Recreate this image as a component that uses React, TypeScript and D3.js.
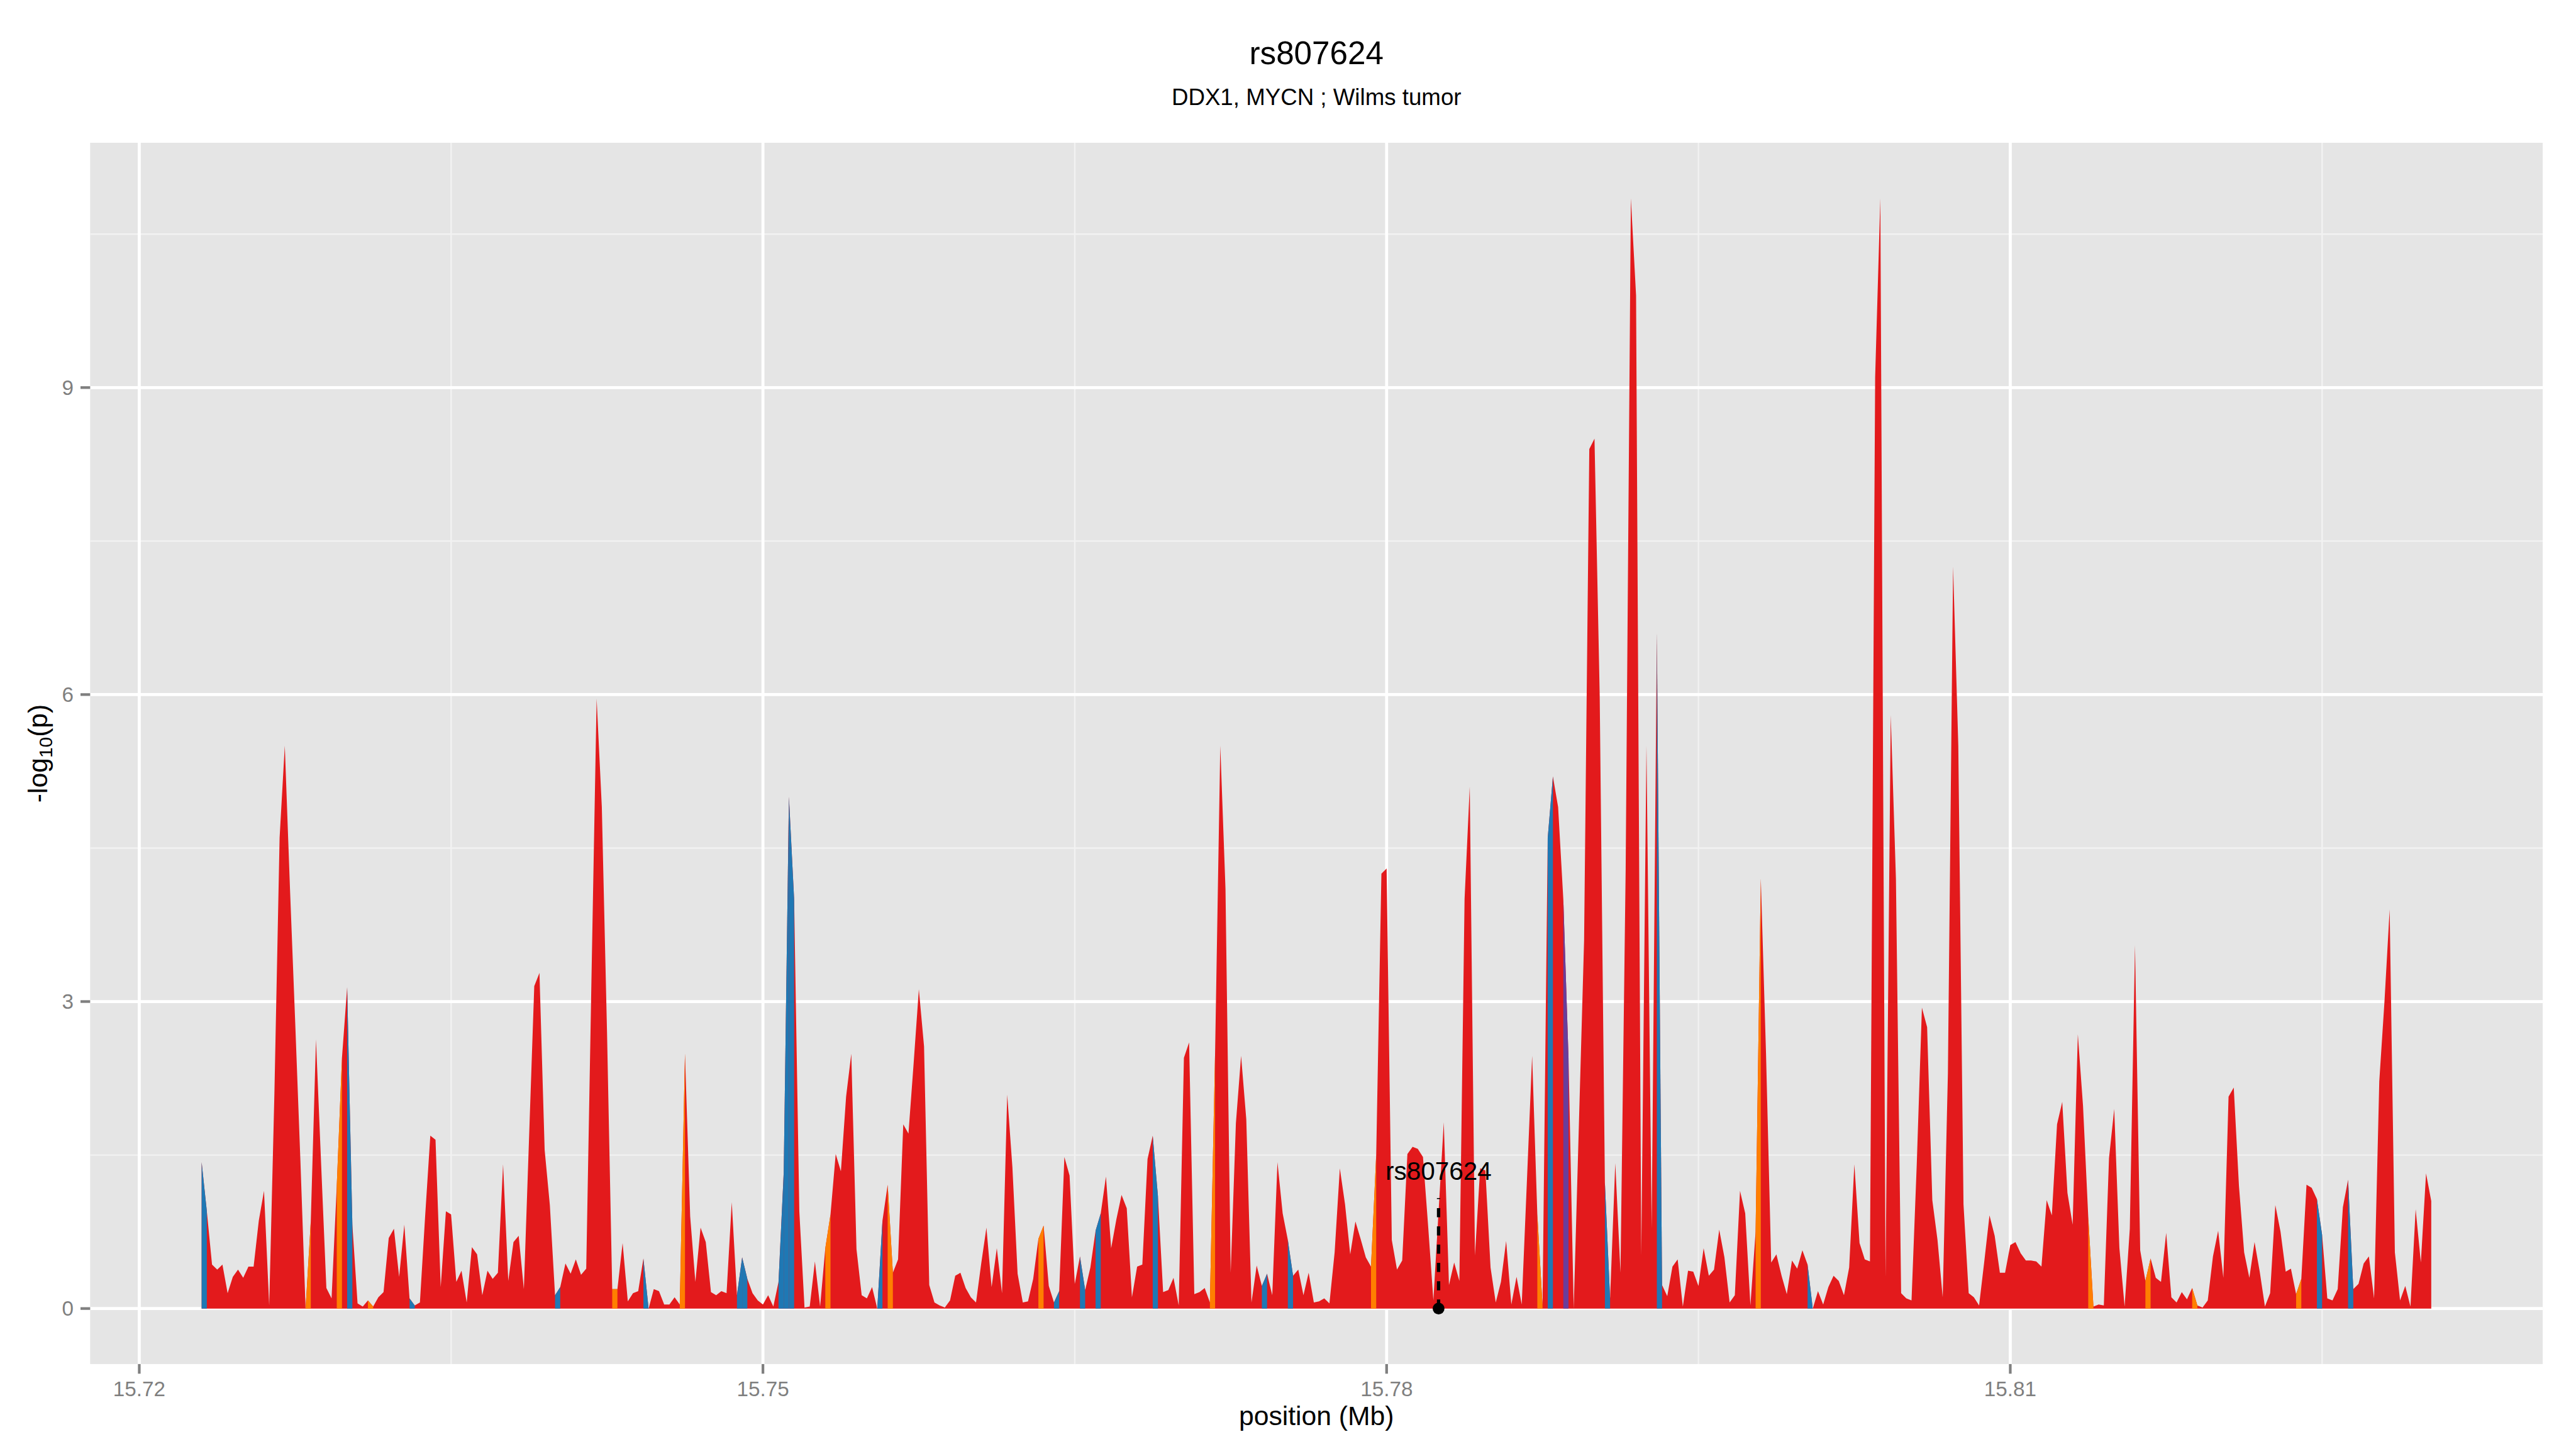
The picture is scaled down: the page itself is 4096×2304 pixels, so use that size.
import React from "react";
import * as d3 from "d3";

// -log10(p) for each 250 bp bin, starting at 15.723 Mb
const firstPosition = 15.723;
const binSize = 0.00025;
const pValues = [
  1.43, 0.95, 0.43, 0.38, 0.43, 0.15, 0.31, 0.38, 0.3, 0.41,
  0.41, 0.86, 1.15, 0.03, 2.1, 4.6, 5.5, 4.1, 2.8, 1.45,
  0.0, 0.85, 2.63, 1.4, 0.2, 0.1, 1.2, 2.45, 3.14, 0.82,
  0.05, 0.02, 0.08, 0.02, 0.11, 0.16, 0.69, 0.78, 0.31, 0.82,
  0.1, 0.03, 0.06, 0.9, 1.69, 1.65, 0.21, 0.95, 0.92, 0.26,
  0.37, 0.06, 0.6, 0.53, 0.13, 0.37, 0.29, 0.35, 1.41, 0.27,
  0.65, 0.71, 0.19, 1.67, 3.15, 3.28, 1.55, 1.01, 0.13, 0.21,
  0.44, 0.34, 0.48, 0.33, 0.39, 3.2, 5.96, 4.9, 2.7, 0.19,
  0.19, 0.64, 0.07, 0.15, 0.17, 0.49, 0.0, 0.19, 0.17, 0.04,
  0.04, 0.11, 0.04, 2.49, 0.9, 0.26, 0.79, 0.65, 0.16, 0.13,
  0.17, 0.15, 1.04, 0.13, 0.5, 0.29, 0.15, 0.08, 0.04, 0.13,
  0.02, 0.26, 1.33, 5.0, 4.0, 0.95, 0.01, 0.02, 0.46, 0.02,
  0.59, 0.92, 1.51, 1.34, 2.07, 2.49, 0.58, 0.13, 0.1, 0.21,
  0.0, 0.86, 1.21, 0.35, 0.48, 1.8, 1.71, 2.4, 3.12, 2.56,
  0.23, 0.06, 0.03, 0.01, 0.08, 0.32, 0.35, 0.2, 0.11, 0.06,
  0.44, 0.79, 0.21, 0.59, 0.15, 2.09, 1.38, 0.34, 0.06, 0.07,
  0.29, 0.68, 0.81, 0.22, 0.06, 0.17, 1.48, 1.3, 0.24, 0.51,
  0.18, 0.4, 0.76, 0.93, 1.29, 0.59, 0.87, 1.11, 0.98, 0.11,
  0.41, 0.43, 1.46, 1.69, 1.1, 0.16, 0.18, 0.3, 0.03, 2.45,
  2.6, 0.14, 0.16, 0.2, 0.06, 2.5, 5.5, 4.1, 0.35, 1.81,
  2.47, 1.85, 0.06, 0.42, 0.22, 0.34, 0.13, 1.43, 0.93, 0.67,
  0.32, 0.38, 0.13, 0.35, 0.06, 0.07, 0.1, 0.05, 0.55, 1.37,
  1.02, 0.53, 0.85, 0.68, 0.5, 0.41, 1.5, 4.25, 4.3, 0.67,
  0.38, 0.47, 1.51, 1.58, 1.56, 1.48, 0.8, 0.08, 0.95, 1.82,
  0.23, 0.45, 0.27, 4.0, 5.1, 0.52, 1.37, 1.35, 0.4, 0.06,
  0.26, 0.66, 0.04, 0.31, 0.04, 1.25, 2.47, 0.92, 0.03, 4.6,
  5.2, 4.9, 4.0, 2.45, 0.0, 1.8, 3.6, 8.4, 8.5, 6.0,
  1.23, 0.1, 1.42, 0.35, 4.3, 10.85, 9.9, 0.52, 5.5, 0.78,
  6.6, 0.23, 0.12, 0.41, 0.48, 0.02, 0.37, 0.36, 0.22, 0.59,
  0.32, 0.38, 0.77, 0.5, 0.06, 0.13, 1.15, 0.93, 0.03, 0.75,
  4.2, 2.5, 0.45, 0.53, 0.32, 0.14, 0.47, 0.39, 0.57, 0.43,
  0.0, 0.17, 0.04, 0.21, 0.32, 0.27, 0.13, 0.4, 1.41, 0.64,
  0.48, 0.46, 9.1, 10.85, 0.31, 5.8, 4.2, 0.15, 0.1, 0.08,
  1.4, 2.94, 2.75, 1.06, 0.67, 0.11, 2.3, 7.25, 5.5, 1.02,
  0.15, 0.11, 0.03, 0.46, 0.91, 0.71, 0.35, 0.35, 0.62, 0.65,
  0.54, 0.47, 0.47, 0.46, 0.41, 1.06, 0.91, 1.8, 2.02, 1.13,
  0.82, 2.68, 1.98, 0.9, 0.02, 0.04, 0.03, 1.47, 1.95, 0.59,
  0.02, 0.78, 3.55, 0.57, 0.27, 0.49, 0.3, 0.26, 0.74, 0.11,
  0.06, 0.16, 0.09, 0.2, 0.03, 0.01, 0.08, 0.51, 0.76, 0.3,
  2.07, 2.16, 1.2, 0.55, 0.3, 0.65, 0.36, 0.02, 0.15, 1.01,
  0.75, 0.36, 0.39, 0.14, 0.29, 1.21, 1.18, 1.07, 0.72, 0.1,
  0.08, 0.19, 0.99, 1.26, 0.19, 0.24, 0.44, 0.51, 0.1, 2.22,
  3.0, 3.9, 0.55, 0.08, 0.22, 0.02, 0.97, 0.45, 1.32, 1.05,
];

// bin -> next bin segments that are not in the default (red) class
const blueSegments = [0, 28, 40, 68, 85, 103, 104, 111, 112, 113, 130, 164, 169, 172, 183, 204, 209, 259, 270, 280, 309, 407, 413];
const orangeSegments = [20, 26, 32, 79, 92, 120, 132, 161, 194, 225, 257, 299, 363, 374, 383, 403];
const purpleSegments = [262];

const xBreaks = [15.72, 15.75, 15.78, 15.81];
const yBreaks = [0, 3, 6, 9];

const leadSnp = "rs807624";
const leadBin = 238;

const W = 4800;
const H = 2700;
const panel = { left: 168, right: 4738, top: 266, bottom: 2541.7 };
const font = "'Liberation Sans', Arial, Helvetica, sans-serif";

const colors = {
  red: "#E31A1C",
  blue: "#1F78B4",
  orange: "#FF7F00",
  purple: "#6A3D9A",
};

export default function App() {
  const points = pValues.map((v, i) => ({ pos: firstPosition + i * binSize, v }));

  // ggplot style 5% expansion
  const [x0, x1] = d3.extent(points, (d) => d.pos) as [number, number];
  const xPad = (x1 - x0) * 0.05;
  const x = d3.scaleLinear().domain([x0 - xPad, x1 + xPad]).range([panel.left, panel.right]);
  const yMax = d3.max(pValues) as number;
  const yPad = yMax * 0.05;
  const y = d3.scaleLinear().domain([-yPad, yMax + yPad]).range([panel.bottom, panel.top]);

  const area = d3
    .area<{ pos: number; v: number }>()
    .x((d) => x(d.pos))
    .y0(y(0))
    .y1((d) => y(d.v));

  const xStep = xBreaks[1] - xBreaks[0];
  const yStep = yBreaks[1] - yBreaks[0];
  const xMinor = xBreaks.map((b) => b + xStep / 2).filter((b) => b < x.domain()[1]);
  const yMinor = yBreaks.map((b) => b + yStep / 2).filter((b) => b < y.domain()[1]);

  const segment = (i: number, fill: string) => (
    <path key={fill + i} d={area([points[i], points[i + 1]]) || ""} fill={fill} />
  );

  const lead = points[leadBin];

  return (
    <svg
      width={4096}
      height={2304}
      viewBox={`0 0 ${W} ${H}`}
      style={{ position: "absolute", left: 0, top: 0, display: "block", background: "#fff" }}
    >
      <rect x={0} y={0} width={W} height={H} fill="#fff" />

      {/* panel */}
      <rect
        x={panel.left}
        y={panel.top}
        width={panel.right - panel.left}
        height={panel.bottom - panel.top}
        fill="#E5E5E5"
      />
      {xMinor.map((b) => (
        <line key={"xm" + b} x1={x(b)} x2={x(b)} y1={panel.top} y2={panel.bottom} stroke="#F2F2F2" strokeWidth={2.8} />
      ))}
      {yMinor.map((b) => (
        <line key={"ym" + b} x1={panel.left} x2={panel.right} y1={y(b)} y2={y(b)} stroke="#F2F2F2" strokeWidth={2.8} />
      ))}
      {xBreaks.map((b) => (
        <line key={"xg" + b} x1={x(b)} x2={x(b)} y1={panel.top} y2={panel.bottom} stroke="#fff" strokeWidth={5.6} />
      ))}
      {yBreaks.map((b) => (
        <line key={"yg" + b} x1={panel.left} x2={panel.right} y1={y(b)} y2={y(b)} stroke="#fff" strokeWidth={5.6} />
      ))}

      {/* association signal */}
      <path d={area(points) || ""} fill={colors.red} />
      {blueSegments.map((i) => segment(i, colors.blue))}
      {orangeSegments.map((i) => segment(i, colors.orange))}
      {purpleSegments.map((i) => segment(i, colors.purple))}

      {/* lead SNP marker */}
      <line
        x1={x(lead.pos)}
        x2={x(lead.pos)}
        y1={y(0)}
        y2={y(1.08)}
        stroke="#000"
        strokeWidth={6.2}
        strokeDasharray="17 17"
      />
      <circle cx={x(lead.pos)} cy={y(0)} r={11} fill="#000" />
      <text
        x={x(lead.pos)}
        y={y(1.345)}
        textAnchor="middle"
        dominantBaseline="central"
        fontFamily={font}
        fontSize={47.5}
        fill="#000"
      >
        {leadSnp}
      </text>

      {/* axes */}
      {xBreaks.map((b) => (
        <g key={"xt" + b}>
          <line x1={x(b)} x2={x(b)} y1={panel.bottom} y2={panel.bottom + 18} stroke="#7F7F7F" strokeWidth={5} />
          <text x={x(b)} y={2601.7} textAnchor="middle" fontFamily={font} fontSize={39} fill="#7F7F7F">
            {b.toFixed(2)}
          </text>
        </g>
      ))}
      {yBreaks.map((b) => (
        <g key={"yt" + b}>
          <line x1={panel.left - 18} x2={panel.left} y1={y(b)} y2={y(b)} stroke="#7F7F7F" strokeWidth={5} />
          <text
            x={137}
            y={y(b)}
            textAnchor="end"
            dominantBaseline="central"
            fontFamily={font}
            fontSize={39}
            fill="#7F7F7F"
          >
            {b}
          </text>
        </g>
      ))}

      <text
        x={(panel.left + panel.right) / 2}
        y={2655}
        textAnchor="middle"
        fontFamily={font}
        fontSize={50}
        fill="#000"
      >
        position (Mb)
      </text>
      <text
        transform={`translate(88, ${(panel.top + panel.bottom) / 2}) rotate(-90)`}
        textAnchor="middle"
        fontFamily={font}
        fontSize={50}
        fill="#000"
      >
        -log
        <tspan fontSize={35} dy={9}>
          10
        </tspan>
        <tspan dy={-9}>(p)</tspan>
      </text>

      {/* titles */}
      <text x={2453} y={119} textAnchor="middle" fontFamily={font} fontSize={60} fill="#000">
        rs807624
      </text>
      <text x={2453} y={196} textAnchor="middle" fontFamily={font} fontSize={43} fill="#000">
        DDX1, MYCN ; Wilms tumor
      </text>
    </svg>
  );
}
